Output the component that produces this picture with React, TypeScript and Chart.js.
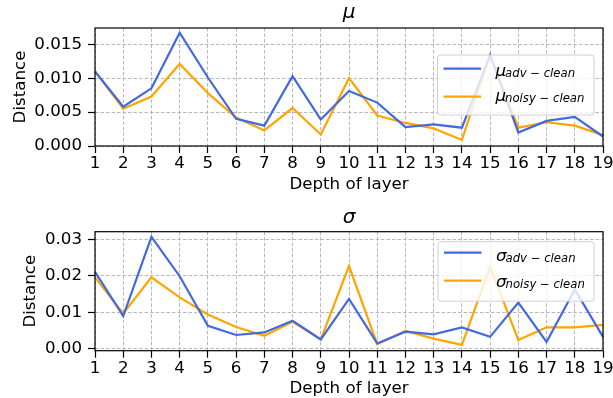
import React, { useEffect, useRef } from 'react';
import { Chart, registerables } from 'chart.js';

Chart.register(...registerables);

const layers = ['1', '2', '3', '4', '5', '6', '7', '8', '9', '10', '11', '12', '13', '14', '15', '16', '17', '18', '19'];

const muAdv = [0.0110, 0.0058, 0.0085, 0.0167, 0.0101, 0.0040, 0.0030, 0.0103, 0.0039, 0.0081, 0.0064, 0.0028, 0.0032, 0.0027, 0.0134, 0.0020, 0.0037, 0.0043, 0.0014];
const muNoisy = [0.0110, 0.0055, 0.0073, 0.0121, 0.0078, 0.0042, 0.0023, 0.0056, 0.0017, 0.0100, 0.0045, 0.0034, 0.0026, 0.0009, 0.0134, 0.0027, 0.0035, 0.0030, 0.0016];

const sigmaAdv = [0.0211, 0.0090, 0.0307, 0.0199, 0.0063, 0.0038, 0.0045, 0.0077, 0.0026, 0.0137, 0.0015, 0.0047, 0.0040, 0.0059, 0.0033, 0.0127, 0.0019, 0.0163, 0.0033];
const sigmaNoisy = [0.0196, 0.0097, 0.0196, 0.0141, 0.0094, 0.0060, 0.0036, 0.0074, 0.0026, 0.0227, 0.0013, 0.0049, 0.0028, 0.0011, 0.0225, 0.0024, 0.0059, 0.0059, 0.0066];

const muTicksDecimals = 3;
const sigmaTicksDecimals = 2;

const FONT = '"DejaVu Sans", sans-serif';
const BLUE = '#4169e1';
const ORANGE = '#ffa500';

const decoPlugin = {
  id: 'deco',
  afterDatasetsDraw(chart: any, _args: any, opts: any) {
    const { ctx, chartArea: a } = chart;
    ctx.save();
    ctx.setLineDash([]);
    ctx.strokeStyle = '#000';
    ctx.lineWidth = 1.2;
    ctx.strokeRect(a.left, a.top, a.right - a.left, a.bottom - a.top);

    ctx.fillStyle = '#000';
    ctx.font = `italic 20px ${FONT}`;
    ctx.textAlign = 'center';
    ctx.textBaseline = 'alphabetic';
    ctx.fillText(opts.title, (a.left + a.right) / 2, opts.titleY);

    const L = opts.legend;
    ctx.beginPath();
    if (ctx.roundRect) ctx.roundRect(L.x, L.y, L.w, L.h, 3);
    else ctx.rect(L.x, L.y, L.w, L.h);
    ctx.fillStyle = 'rgba(255,255,255,0.8)';
    ctx.fill();
    ctx.strokeStyle = '#d0d0d0';
    ctx.lineWidth = 1;
    ctx.stroke();

    L.entries.forEach((e: any, i: number) => {
      const ly = L.y + L.lineOff[i];
      ctx.strokeStyle = e.color;
      ctx.lineWidth = 2.2;
      ctx.beginPath();
      ctx.moveTo(L.x + 6, ly);
      ctx.lineTo(L.x + 43.5, ly);
      ctx.stroke();
      const by = L.y + L.baseOff[i];
      ctx.fillStyle = '#000';
      ctx.textAlign = 'left';
      ctx.font = `italic 16.67px ${FONT}`;
      const tx = L.x + 58;
      ctx.fillText(e.main, tx, by);
      const w = ctx.measureText(e.main).width;
      ctx.font = `italic 11.67px ${FONT}`;
      ctx.fillText(e.sub, tx + w - 1, by + 1.5);
    });
    ctx.restore();
  },
};

type PanelProps = {
  top: number;
  height: number;
  adv: number[];
  noisy: number[];
  yMin: number;
  yMax: number;
  step: number;
  decimals: number;
  chartTop: number;
  xAxisHeight: number;
  xTitlePadBottom: number;
  yTitlePadTop: number;
  title: string;
  titleY: number;
  legend: any;
};

function Panel(p: PanelProps) {
  const ref = useRef<HTMLCanvasElement>(null);
  useEffect(() => {
    const chart = new Chart(ref.current as HTMLCanvasElement, {
      type: 'line',
      data: {
        labels: layers,
        datasets: [
          { data: p.adv, borderColor: BLUE, borderWidth: 2.2, pointRadius: 0, tension: 0, fill: false },
          { data: p.noisy, borderColor: ORANGE, borderWidth: 2.2, pointRadius: 0, tension: 0, fill: false },
        ],
      },
      options: {
        animation: false,
        responsive: false,
        devicePixelRatio: 1,
        events: [],
        layout: { padding: { top: p.chartTop, right: 10, left: 0, bottom: 0 } },
        plugins: {
          legend: { display: false },
          title: { display: false },
          tooltip: { enabled: false },
          deco: { title: p.title, titleY: p.titleY, legend: p.legend },
        } as any,
        scales: {
          x: {
            type: 'category',
            offset: false,
            grid: {
              color: '#b8b8b8',
              lineWidth: 1,
              tickLength: 7,
              tickColor: '#000',
              tickWidth: 1.2,
              tickBorderDash: [],
            } as any,
            border: { display: false, dash: [3.5, 2] },
            ticks: {
              color: '#000',
              font: { family: FONT, size: 16.67, lineHeight: 1 },
              padding: 2.3,
              maxRotation: 0,
              autoSkip: false,
            },
            title: {
              display: true,
              text: 'Depth of layer',
              color: '#000',
              font: { family: FONT, size: 16.67, lineHeight: 1 },
              padding: { top: 0, bottom: p.xTitlePadBottom },
            },
            afterFit: (s: any) => {
              s.height = p.xAxisHeight;
              s.paddingLeft = 0;
              s.paddingRight = 0;
            },
          },
          y: {
            type: 'linear',
            min: p.yMin,
            max: p.yMax,
            grid: {
              color: '#b8b8b8',
              lineWidth: 1,
              tickLength: 7,
              tickColor: '#000',
              tickWidth: 1.2,
              tickBorderDash: [],
            } as any,
            border: { display: false, dash: [3.5, 2] },
            ticks: {
              stepSize: p.step,
              includeBounds: false,
              color: '#000',
              font: { family: FONT, size: 16.67, lineHeight: 1 },
              padding: 6,
              callback: (v: any) => Number(v).toFixed(p.decimals),
            },
            title: {
              display: true,
              text: 'Distance',
              color: '#000',
              font: { family: FONT, size: 16.67, lineHeight: 1 },
              padding: { top: p.yTitlePadTop, bottom: 0 },
            },
            afterFit: (s: any) => {
              s.width = 95;
            },
          },
        },
      },
      plugins: [decoPlugin],
    });
    return () => chart.destroy();
  }, []);
  return (
    <canvas
      ref={ref}
      width={613}
      height={p.height}
      style={{ position: 'absolute', left: 0, top: p.top, width: 613, height: p.height, display: 'block' }}
    />
  );
}

export default function App() {
  return (
    <div style={{ position: 'absolute', left: 0, top: 0, width: 613, height: 398, overflow: 'hidden', background: '#fff' }}>
      <Panel
        top={0}
        height={200}
        adv={muAdv}
        noisy={muNoisy}
        yMin={0}
        yMax={0.0174}
        step={0.005}
        decimals={muTicksDecimals}
        chartTop={28}
        xAxisHeight={54}
        xTitlePadBottom={7}
        yTitlePadTop={11.9}
        title="μ"
        titleY={18}
        legend={{
          x: 437.5, y: 55, w: 156.5, h: 60,
          lineOff: [13.7, 41.7], baseOff: [20.5, 45.5],
          entries: [
            { color: BLUE, main: 'μ', sub: 'adv − clean' },
            { color: ORANGE, main: 'μ', sub: 'noisy − clean' },
          ],
        }}
      />
      <Panel
        top={200}
        height={198}
        adv={sigmaAdv}
        noisy={sigmaNoisy}
        yMin={-0.0005}
        yMax={0.0321}
        step={0.01}
        decimals={sigmaTicksDecimals}
        chartTop={31.7}
        xAxisHeight={47.3}
        xTitlePadBottom={0.6}
        yTitlePadTop={21.9}
        title="σ"
        titleY={23}
        legend={{
          x: 438, y: 41.7, w: 156, h: 59.5,
          lineOff: [11, 39], baseOff: [19, 45],
          entries: [
            { color: BLUE, main: 'σ', sub: 'adv − clean' },
            { color: ORANGE, main: 'σ', sub: 'noisy − clean' },
          ],
        }}
      />
    </div>
  );
}
